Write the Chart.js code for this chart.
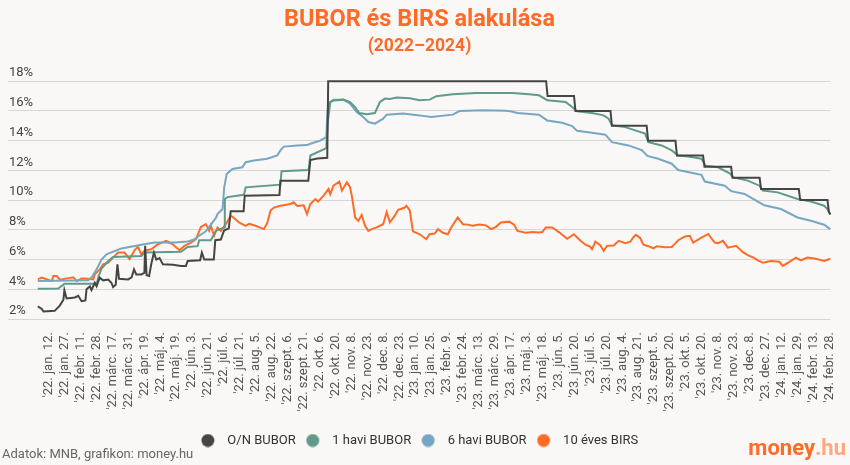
<!DOCTYPE html>
<html>
	<head>
		<title>BUBOR és BIRS alakulása</title>
        <meta charset="UTF-8">
        <script src="https://cdn.jsdelivr.net/npm/chart.js@4.4.1/dist/chart.umd.min.js"></script>
        <style>
            body { margin: 0; background: #f9f8f6; }
            #wrap { width: 850px; height: 465px; position: relative; }
        </style>
	</head>
	<body>
        <div id="wrap"><canvas id="myChart"></canvas></div>

		<script>
            // tick labels (one every ~11 business days)
            var tickLabels = ["'22. jan. 12.", "'22. jan. 27.", "'22. febr. 11.", "'22. febr. 28.", "'22. márc. 17.", "'22. márc. 31.",
                "'22. ápr. 19.", "'22. máj. 4.", "'22. máj. 19.", "'22. jún. 3.", "'22. jún. 21.", "'22. júl. 6.", "'22. júl. 21.",
                "'22. aug. 5.", "'22. aug. 22.", "'22. szept. 6.", "'22. szept. 21.", "'22. okt. 6.", "'22. okt. 20.", "'22. nov. 8.",
                "'22. nov. 23.", "'22. dec. 8.", "'22. dec. 23.", "'23. jan. 10.", "'23. jan. 25.", "'23. febr. 9.", "'23. febr. 24.",
                "'23. márc. 13.", "'23. márc. 29.", "'23. ápr. 17.", "'23. máj. 3.", "'23. máj. 18.", "'23. jún. 5.", "'23. jún. 20.",
                "'23. júl. 5.", "'23. júl. 20.", "'23. aug. 4.", "'23. aug. 21.", "'23. szept. 5.", "'23. szept. 20.", "'23. okt. 5.",
                "'23. okt. 20.", "'23. nov. 8.", "'23. nov. 23.", "'23. dec. 8.", "'23. dec. 27.", "'24. jan. 12.", "'24. jan. 29.",
                "'24. febr. 13.", "'24. febr. 28."]

            var seriesNames = ['O/N BUBOR', '1 havi BUBOR', '6 havi BUBOR', '10 éves BIRS']

            // [position on the date axis (tick label index), rate %]
            var onBubor = [[-0.69, 2.85], [-0.44, 2.68], [-0.33, 2.5], [0.37, 2.55], [0.69, 2.9], [0.92, 3.3], [0.98, 3.93],
                [1.12, 3.38], [1.64, 3.45], [1.85, 3.56], [2.06, 3.2], [2.3, 3.25], [2.37, 4.0], [2.58, 4.2], [2.68, 3.95],
                [2.89, 4.44], [3.0, 4.2], [3.2, 4.78], [3.41, 4.6], [3.73, 4.65], [3.93, 4.44], [4.04, 4.15], [4.2, 4.3],
                [4.31, 5.68], [4.41, 4.7], [4.98, 4.66], [5.2, 4.8], [5.35, 5.34], [5.49, 5.0], [5.81, 5.0], [6.0, 5.1],
                [6.05, 6.92], [6.14, 4.95], [6.3, 4.9], [6.43, 5.68], [6.6, 6.47], [6.75, 6.0], [6.95, 6.1], [7.16, 5.68],
                [7.8, 5.65], [8.3, 5.57], [8.61, 5.57], [8.72, 5.9], [9.5, 5.95], [9.61, 6.47], [9.76, 6.0], [10.36, 6.0],
                [10.45, 7.3], [10.8, 7.35], [11.0, 7.95], [11.3, 8.1], [11.42, 9.25], [12.23, 9.25], [12.3, 10.3],
                [14.48, 10.35], [14.54, 11.3], [16.29, 11.3], [16.42, 12.7], [16.85, 12.8], [17.48, 12.85], [17.54, 18],
                [31.22, 18], [31.31, 17], [32.97, 17], [33.06, 16], [35.26, 16], [35.35, 15], [37.53, 15], [37.62, 14],
                [39.34, 14], [39.43, 13], [41.07, 13], [41.16, 12.25], [42.83, 12.25], [42.92, 11.5], [44.62, 11.5],
                [44.71, 10.75], [47.08, 10.75], [47.17, 10], [48.88, 10], [48.97, 9.2], [49.06, 9.05]]

            var bubor1m = [[-0.69, 4.03], [0.6, 4.05], [0.98, 4.37], [3.0, 4.37], [3.1, 4.78], [3.31, 5.4], [3.73, 5.9],
                [4.04, 6.17], [5.81, 6.24], [6.01, 6.47], [8.3, 6.53], [8.72, 6.85], [9.34, 6.9], [9.44, 7.3], [10.17, 7.3],
                [10.49, 7.93], [11.01, 8.16], [11.05, 10.07], [11.22, 10.2], [12.25, 10.36], [12.36, 10.86], [14.54, 11.04],
                [14.61, 11.94], [16.31, 12.03], [16.42, 13.0], [17.42, 13.5], [17.5, 15.14], [17.67, 16.6], [17.87, 16.7],
                [18.5, 16.76], [18.91, 16.6], [19.23, 16.26], [19.49, 15.86], [19.96, 15.77], [20.47, 15.86], [20.79, 16.6],
                [21.1, 16.83], [21.41, 16.8], [21.83, 16.9], [22.66, 16.85], [23.28, 16.72], [23.91, 16.76], [24.33, 16.99],
                [25.36, 17.12], [26.82, 17.21], [29.11, 17.21], [30.15, 17.12], [30.77, 17.05], [31.29, 16.72], [32.44, 16.6],
                [32.85, 16.26], [33.16, 15.97], [34.1, 15.86], [34.83, 15.7], [35.14, 15.48], [35.35, 15.03], [36.19, 14.91],
                [36.81, 14.69], [37.43, 14.47], [37.64, 13.9], [38.47, 13.68], [39.1, 13.34], [39.51, 13.0], [40.14, 12.93],
                [40.97, 12.78], [41.22, 12.32], [42.01, 12.21], [42.74, 11.8], [42.95, 11.53], [43.88, 11.31], [44.61, 10.97],
                [44.82, 10.64], [45.76, 10.52], [47.0, 10.07], [47.84, 9.91], [48.67, 9.62], [48.88, 9.4], [49.06, 9.01]]

            var bubor6m = [[-0.69, 4.55], [2.48, 4.6], [2.7, 4.8], [3.0, 5.34], [3.31, 6.0], [3.62, 6.35], [4.04, 6.53],
                [4.56, 6.75], [5.81, 7.0], [6.64, 7.14], [7.88, 7.14], [8.72, 7.22], [9.13, 7.35], [9.44, 7.6], [9.86, 7.9],
                [10.07, 8.2], [10.49, 8.8], [10.59, 9.06], [10.91, 9.4], [11.01, 10.86], [11.17, 11.76], [11.53, 12.1],
                [12.15, 12.21], [12.36, 12.55], [12.88, 12.66], [13.71, 12.78], [14.34, 13.0], [14.54, 13.34], [14.75, 13.6],
                [15.59, 13.68], [16.21, 13.7], [16.42, 13.79], [17.04, 14.0], [17.42, 14.24], [17.5, 16.04], [17.67, 16.6],
                [17.87, 16.76], [18.5, 16.76], [18.91, 16.49], [19.33, 15.93], [19.74, 15.59], [20.06, 15.25], [20.47, 15.14],
                [20.99, 15.48], [21.21, 15.75], [22.24, 15.82], [23.28, 15.7], [24.01, 15.59], [25.36, 15.75], [25.78, 15.99],
                [27.23, 16.04], [28.7, 16.02], [29.11, 15.95], [29.42, 15.86], [30.77, 15.75], [31.29, 15.36], [32.23, 15.2],
                [32.85, 14.98], [33.16, 14.66], [34.1, 14.53], [34.94, 14.4], [35.35, 13.9], [36.39, 13.68], [37.22, 13.36],
                [37.58, 12.97], [38.26, 12.78], [39.1, 12.45], [39.51, 12.02], [40.97, 11.7], [41.18, 11.25], [42.43, 10.97],
                [42.84, 10.6], [43.68, 10.41], [44.51, 9.9], [44.92, 9.65], [45.96, 9.4], [47.0, 8.83], [47.84, 8.61],
                [48.67, 8.34], [49.06, 8.05]]

            var birs10y = [[-0.69, 4.67], [-0.44, 4.78], [-0.02, 4.62], [0.19, 4.55], [0.29, 4.9], [0.5, 4.9], [0.69, 4.65],
                [1.23, 4.75], [1.54, 4.8], [1.75, 4.55], [2.06, 4.72], [2.48, 4.7], [2.79, 4.67], [2.89, 5.0], [3.2, 5.34],
                [3.41, 5.68], [3.73, 5.79], [4.04, 6.13], [4.35, 6.47], [4.76, 6.47], [5.07, 6.02], [5.39, 6.64], [5.6, 6.86],
                [5.81, 6.33], [6.01, 6.6], [6.43, 6.69], [6.85, 7.03], [7.37, 7.26], [7.78, 7.03], [8.2, 6.63], [8.51, 6.92],
                [8.93, 7.14], [9.24, 7.37], [9.55, 8.2], [9.86, 8.38], [10.07, 7.93], [10.17, 8.3], [10.38, 7.6], [10.59, 8.16],
                [10.8, 7.93], [11.11, 8.38], [11.42, 8.95], [11.63, 8.8], [11.94, 8.5], [12.36, 8.27], [12.57, 8.4],
                [12.98, 8.27], [13.5, 8.05], [13.71, 8.45], [13.92, 9.3], [14.13, 9.5], [14.54, 9.62], [15.17, 9.74],
                [15.37, 9.85], [15.59, 9.6], [16.0, 9.65], [16.21, 9.06], [16.42, 9.74], [16.73, 10.07], [16.9, 9.9],
                [17.25, 10.3], [17.56, 10.75], [17.67, 10.4], [17.87, 10.97], [18.24, 11.25], [18.4, 10.64], [18.71, 11.2],
                [18.9, 10.9], [19.02, 10.3], [19.23, 8.83], [19.43, 8.6], [19.64, 9.0], [19.85, 8.27], [20.06, 7.93],
                [20.27, 8.05], [20.58, 8.16], [20.99, 8.38], [21.21, 9.2], [21.41, 8.5], [21.72, 8.95], [21.93, 9.35],
                [22.35, 9.5], [22.45, 9.62], [22.66, 9.3], [22.86, 7.9], [23.28, 7.7], [23.7, 7.37], [23.91, 7.7],
                [24.22, 7.75], [24.43, 8.05], [24.74, 7.8], [25.05, 7.7], [25.26, 8.16], [25.67, 8.83], [25.99, 8.38],
                [26.3, 8.35], [26.61, 8.27], [27.03, 8.35], [27.45, 8.3], [27.76, 8.05], [28.07, 8.2], [28.38, 8.5],
                [28.9, 8.55], [29.21, 8.34], [29.42, 7.93], [29.94, 7.8], [30.36, 7.85], [30.77, 7.82], [30.98, 7.85],
                [31.19, 8.16], [31.6, 8.16], [32.02, 7.85], [32.54, 7.4], [32.96, 7.7], [33.38, 7.26], [33.69, 7.0],
                [34.0, 6.85], [34.1, 6.69], [34.31, 7.21], [34.63, 6.95], [34.83, 6.58], [35.04, 6.92], [35.46, 6.95],
                [35.77, 7.26], [36.19, 7.1], [36.5, 7.2], [36.7, 7.5], [36.85, 7.66], [37.12, 7.45], [37.33, 7.0],
                [37.64, 6.9], [37.95, 6.76], [38.16, 6.9], [38.68, 6.82], [39.1, 6.85], [39.31, 7.07], [39.51, 7.3],
                [39.93, 7.55], [40.24, 7.6], [40.45, 7.14], [40.97, 7.48], [41.39, 7.72], [41.8, 7.14], [42.01, 7.1],
                [42.32, 7.26], [42.63, 6.8], [43.15, 6.92], [43.57, 6.5], [43.88, 6.3], [44.3, 6.09], [44.51, 5.95],
                [44.82, 5.79], [45.34, 5.9], [45.86, 5.85], [46.07, 5.57], [46.49, 5.85], [46.9, 6.13], [47.21, 5.95],
                [47.63, 6.13], [48.15, 6.05], [48.67, 5.9], [49.06, 6.05]]

            var colors = ['#454545', '#5f9a8b', '#76a6c1', '#ff6b26']

            function toPoints(arr) {
                return arr.map(function(p) { return {x: p[0], y: p[1]} })
            }

            // legend marker: a dot at the left of a wider transparent box
            function dot(color) {
                var cv = document.createElement('canvas')
                cv.width = 20
                cv.height = 14
                var c = cv.getContext('2d')
                c.fillStyle = color
                c.beginPath()
                c.arc(7, 7, 6.5, 0, Math.PI * 2)
                c.fill()
                return cv
            }

            var datasets = [onBubor, bubor1m, bubor6m, birs10y].map(function(s, i) {
                return {
                    label: seriesNames[i],
                    data: toPoints(s),
                    borderColor: colors[i],
                    backgroundColor: colors[i],
                    pointStyle: dot(colors[i]),
                    borderWidth: 2,
                    pointRadius: 0,
                    tension: 0,
                    clip: 4
                }
            })

            // source line and logo at the bottom
            var footer = {
                id: 'footer',
                afterDraw: function(chart) {
                    var c = chart.ctx
                    c.save()
                    c.font = '13px Roboto'
                    c.fillStyle = '#666'
                    c.textBaseline = 'middle'
                    c.textAlign = 'left'
                    c.fillText('Adatok: MNB, grafikon: money.hu', 2, 455)
                    c.font = 'bold 22px Roboto'
                    c.textAlign = 'right'
                    var w = c.measureText('.hu').width
                    c.fillStyle = '#ffa77e'
                    c.fillText('.hu', 846, 449)
                    c.fillStyle = '#ff6b26'
                    c.fillText('money', 846 - w, 449)
                    c.restore()
                }
            }

            var ctx = document.getElementById('myChart').getContext('2d');
            var chart = new Chart(ctx, {
                type: 'line',
                data: { datasets: datasets },
                plugins: [footer],
                options: {
                    responsive: true,
                    maintainAspectRatio: false,
                    animation: false,
                    layout: { padding: { left: 6, right: 17, bottom: 8 } },
                    plugins: {
                        title: {
                            display: true,
                            text: 'BUBOR és BIRS alakulása',
                            color: '#ff6b26',
                            font: { family: 'Roboto', size: 23.5, weight: 'bold' },
                            padding: { top: 6, bottom: 2 }
                        },
                        subtitle: {
                            display: true,
                            text: '(2022–2024)',
                            color: '#ff6b26',
                            font: { family: 'Roboto', size: 17.5, weight: 'bold' },
                            padding: { top: 0, bottom: 24 }
                        },
                        legend: {
                            position: 'bottom',
                            labels: {
                                usePointStyle: true,
                                pointStyleWidth: 20,
                                boxHeight: 13,
                                padding: 10,
                                color: '#333',
                                font: { family: 'Roboto', size: 13 }
                            }
                        },
                        tooltip: { enabled: false }
                    },
                    scales: {
                        x: {
                            type: 'linear',
                            min: -2.56,
                            max: 49.06,
                            grid: { display: false },
                            border: { display: false },
                            afterBuildTicks: function(scale) {
                                scale.ticks = tickLabels.map(function(_, i) { return {value: i} })
                            },
                            afterFit: function(scale) { scale.height = 105 },
                            ticks: {
                                autoSkip: false,
                                minRotation: 90,
                                maxRotation: 90,
                                padding: 5,
                                color: '#555',
                                font: { family: 'Roboto', size: 13 },
                                callback: function(v) { return tickLabels[v] }
                            }
                        },
                        y: {
                            min: 2,
                            max: 18,
                            grid: { color: '#d6d6d6', drawTicks: false },
                            border: { display: false },
                            ticks: {
                                stepSize: 2,
                                mirror: true,
                                padding: 1,
                                labelOffset: -8,
                                color: '#444',
                                font: { family: 'Roboto', size: 13 },
                                callback: function(v) { return v + '%' }
                            }
                        }
                    }
                }
            });
		</script>

	</body>
</html>
